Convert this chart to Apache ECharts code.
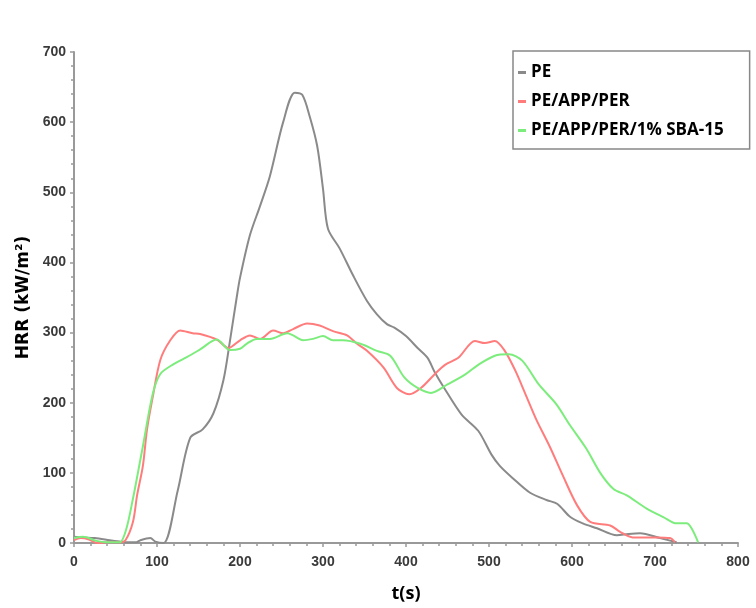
<!DOCTYPE html>
<html>
<head>
<meta charset="utf-8">
<script src="https://cdn.jsdelivr.net/npm/echarts@6/dist/echarts.min.js"></script>
<style>
html,body{margin:0;padding:0;background:#fff;}
#chart{width:756px;height:608px;}
</style>
</head>
<body>
<div id="chart"></div>
<script>
const seriesNames = ["PE", "PE/APP/PER", "PE/APP/PER/1% SBA-15"];

const peT = [0,10,25,43,55,62,75,80,92,98,108,125,140,155,168,180,188,196,200,212,224,236,252,266,275,284,293,300,306,320,336,353,365,377,386,400,414,426,434,446,467,487,503,513,529,549,570,582,598,613,630,654,668,682,706,726];
const peHRR = [9,8,7,4,2,1,1,4,7,2,0,75,150,162,185,232,289,350,378,439,480,523,600,642,639,608,566,505,448,420,382,345,326,312,307,295,278,264,245,221,183,160,126,110,92,72,61,56,37,28,21,11,13,14,7,1];

const appT = [0,8,18,28,40,55,62,71,76,83,88,95,104,116,128,143,152,172,186,200,212,224,240,252,264,281,296,312,329,341,353,373,389,404,418,434,447,463,483,495,507,519,532,544,557,573,589,606,622,646,658,673,702,718,724];
const appHRR = [4,7,5,0,1,1,4,30,68,110,162,209,261,289,303,299,298,290,278,289,296,291,303,299,305,313,310,302,296,284,274,250,221,212,221,240,254,264,288,285,288,274,245,212,176,138,96,54,30,25,16,8,8,7,1];

const sbaT = [0,11,27,40,55,63,71,77,83,95,104,120,136,152,172,188,200,208,220,236,257,264,276,288,300,312,324,345,365,381,398,414,430,450,471,487,507,524,540,560,581,597,617,634,650,666,690,710,726,738,744,752];
const sbaHRR = [7,9,3,1,1,20,63,100,138,213,241,255,265,276,290,275,277,284,291,291,299,296,289,291,295,289,289,284,274,267,236,221,214,226,240,254,267,269,260,226,198,169,135,100,77,68,49,37,28,28,21,1];

const xTicks = [0,100,200,300,400,500,600,700,800];
const yTicks = [0,100,200,300,400,500,600,700];

function pairs(t, v){ return t.map((x,i)=>[x, v[i]]); }

const colors = ["#8a8a8a", "#ff7c7c", "#7ced7c"];
const tickFont = {fontFamily:"Liberation Sans", fontWeight:"bold", fontSize:14, color:"#3a3a3a"};

const chart = echarts.init(document.getElementById('chart'), null, {renderer:'canvas'});
chart.setOption({
  backgroundColor:'#fff',
  animation:false,
  grid:{left:74, right:18, top:52, bottom:60},
  legend:{
    orient:'vertical',
    left:513, top:51,
    data:seriesNames,
    icon:'rect', itemWidth:8, itemHeight:3, itemGap:12,
    borderColor:'#888', borderWidth:1.5, borderRadius:0,
    padding:[13, 26, 10, 5],
    textStyle:{fontFamily:"Open Sans", fontWeight:"bold", fontSize:17, color:'#000'}
  },
  xAxis:{
    type:'value', min:0, max:800, interval:100,
    name:'t(s)', nameLocation:'middle', nameGap:42,
    nameTextStyle:{fontFamily:"Open Sans", fontWeight:"bold", fontSize:18, color:'#000'},
    axisLine:{onZero:false, lineStyle:{color:'#999', width:2}},
    axisTick:{show:true, length:4, lineStyle:{color:'#999', width:1.5}},
    minorTick:{show:true, splitNumber:5, length:3, lineStyle:{color:'#999', width:1.5}},
    splitLine:{show:false},
    axisLabel:Object.assign({margin:12, formatter:v=>xTicks.includes(v)?String(v):''}, tickFont)
  },
  yAxis:{
    type:'value', min:0, max:700, interval:100,
    name:'HRR (kW/m²)', nameLocation:'middle', nameGap:40, nameRotate:90,
    nameTextStyle:{fontFamily:"DejaVu Sans", fontWeight:"bold", fontSize:17, color:'#000'},
    axisLine:{show:true, lineStyle:{color:'#999', width:2}},
    axisTick:{show:true, length:4, lineStyle:{color:'#999', width:1.5}},
    minorTick:{show:true, splitNumber:5, length:3, lineStyle:{color:'#999', width:1.5}},
    splitLine:{show:false},
    axisLabel:Object.assign({margin:8, formatter:v=>yTicks.includes(v)?String(v):''}, tickFont)
  },
  series:[
    {name:seriesNames[0], type:'line', data:pairs(peT, peHRR), showSymbol:false, smooth:0.3, z:2,
     lineStyle:{color:colors[0], width:2}, itemStyle:{color:colors[0]}},
    {name:seriesNames[1], type:'line', data:pairs(appT, appHRR), showSymbol:false, smooth:0.3, z:3,
     lineStyle:{color:colors[1], width:2}, itemStyle:{color:colors[1]}},
    {name:seriesNames[2], type:'line', data:pairs(sbaT, sbaHRR), showSymbol:false, smooth:0.3, z:4,
     lineStyle:{color:colors[2], width:2}, itemStyle:{color:colors[2]}}
  ]
});
</script>
</body>
</html>
